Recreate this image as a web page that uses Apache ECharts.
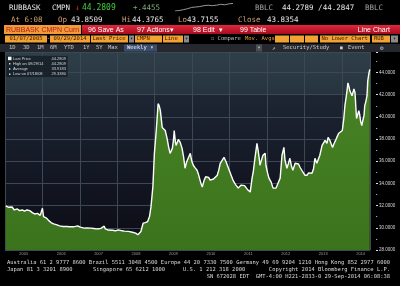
<!DOCTYPE html>
<html><head><meta charset="utf-8">
<script src="https://cdn.jsdelivr.net/npm/echarts@6/dist/echarts.min.js"></script>
<style>html,body{margin:0;padding:0;background:#000}#c{width:400px;height:286px}</style>
</head><body><div id="c"></div><script>
// ---- data (fractional years, RUBBASK weekly close) ----
const dates = [2005.02,2005.06,2005.10,2005.15,2005.19,2005.22,2005.25,2005.29,2005.33,2005.39,2005.43,2005.46,2005.52,2005.56,2005.59,2005.63,2005.66,2005.73,2005.79,2005.84,2005.87,2005.90,2005.94,2005.97,
2006.00,2006.03,2006.07,2006.11,2006.17,2006.23,2006.27,2006.30,2006.35,2006.39,2006.46,2006.50,2006.55,2006.60,2006.66,2006.72,2006.77,2006.83,2006.88,2006.94,
2007.01,2007.06,2007.12,2007.18,2007.23,2007.30,2007.37,2007.44,2007.50,2007.56,2007.59,2007.65,2007.68,2007.71,2007.76,2007.81,2007.88,2007.95,
2008.03,2008.08,2008.13,2008.19,2008.24,2008.30,2008.35,2008.43,2008.49,2008.53,2008.55,2008.60,2008.63,2008.66,2008.69,2008.75,2008.81,2008.86,2008.90,2008.95,2008.99,
2009.04,2009.07,2009.09,2009.12,2009.15,2009.20,2009.24,2009.28,2009.33,2009.37,2009.41,2009.47,2009.50,2009.52,2009.55,2009.57,2009.60,2009.63,2009.68,2009.73,2009.77,2009.81,2009.84,2009.87,2009.91,2009.95,2009.99,
2010.03,2010.08,2010.13,2010.17,2010.21,2010.24,2010.27,2010.32,2010.36,2010.40,2010.44,2010.48,2010.53,2010.57,2010.61,2010.67,2010.71,2010.75,2010.80,2010.85,2010.88,2010.91,2010.96,
2011.00,2011.04,2011.09,2011.13,2011.17,2011.23,2011.27,2011.31,2011.36,2011.40,2011.44,2011.49,2011.55,2011.60,2011.63,2011.68,2011.73,2011.76,2011.79,2011.81,2011.85,2011.89,2011.95,2011.97,
2012.01,2012.05,2012.11,2012.16,2012.20,2012.24,2012.29,2012.35,2012.40,2012.45,2012.48,2012.53,2012.57,2012.61,2012.65,2012.69,2012.75,2012.80,2012.84,2012.88,2012.92,2012.96,
2013.01,2013.04,2013.07,2013.11,2013.15,2013.20,2013.24,2013.28,2013.33,2013.36,2013.41,2013.47,2013.52,2013.55,2013.60,2013.63,2013.68,2013.72,2013.75,2013.79,2013.83,2013.87,2013.91,2013.96,
2014.01,2014.05,2014.08,2014.13,2014.16,2014.19,2014.21,2014.27,2014.32,2014.35,2014.37,2014.39,2014.42,2014.45,2014.47,2014.50,2014.53,2014.56,2014.59,2014.61,2014.64,2014.67,2014.69,2014.72,2014.743];
const prices = [31.97,31.90,31.85,31.79,31.88,31.72,31.61,31.74,31.70,31.55,31.66,31.61,31.50,31.62,31.61,31.48,31.55,31.37,31.25,31.16,31.30,31.25,31.12,31.07,
31.76,31.01,30.95,30.87,30.65,30.47,30.42,30.36,30.33,30.27,30.18,30.22,30.12,30.16,30.12,30.10,30.06,30.09,30.06,30.18,
30.06,30.02,29.97,29.99,29.94,29.97,29.94,29.90,29.91,29.95,29.97,30.15,29.90,29.82,29.80,29.76,29.78,29.73,
29.82,29.76,29.73,29.70,29.67,29.68,29.64,29.58,29.52,29.46,29.37,29.50,29.67,30.05,30.42,30.47,30.56,31.01,31.91,33.70,36.69,
38.77,40.20,41.19,41.00,40.56,39.04,38.90,38.77,38.06,37.30,36.71,37.16,37.90,38.77,37.80,37.43,37.70,37.97,37.70,37.16,36.40,35.37,35.80,36.09,36.40,36.71,36.00,
35.64,35.40,35.19,34.80,34.30,33.95,33.67,34.30,34.60,34.74,34.55,34.30,34.48,34.40,34.57,34.74,35.20,35.82,36.09,36.36,36.20,35.91,35.46,
35.10,34.74,34.30,34.05,33.85,33.58,33.75,33.85,33.67,33.80,33.76,33.40,33.22,34.48,35.01,36.36,37.61,37.00,36.27,35.64,36.10,36.54,36.71,35.64,
35.00,34.48,34.12,33.58,33.70,33.58,33.67,34.48,36.54,37.25,36.09,35.37,35.80,36.27,35.60,35.19,35.82,35.64,35.75,35.46,35.30,35.01,
34.74,34.85,34.74,34.95,34.92,34.92,35.30,36.27,35.82,35.64,36.54,37.43,37.60,37.88,37.61,38.15,37.88,37.50,37.25,37.60,37.88,38.20,38.50,38.33,
38.77,39.85,41.01,42.18,43.07,42.70,42.35,41.91,42.53,42.18,41.00,39.85,40.20,40.56,40.30,39.60,39.22,39.70,40.12,41.01,41.40,41.91,43.25,43.90,44.2809];
const sparkValues = [0,1,3,5,8,9,10,12,13,12,13,15,14,16,17];
const lastPrice = 44.2809;
const yMin = 28, yMax = 45.85, yStep = 2;
const xMin = 2005, xMax = 2014.75;
const legendRows = [['Last Price','44.2809'],['High on 09/29/14','44.2809'],['Average','33.9183'],['Low on 07/18/08','29.3380']];

const MONO = 'DejaVu Sans Mono', SANS = 'Liberation Sans';
function T(x,y,text,fill,size,opt){opt=opt||{};return {type:'text',x:x,y:y,z:opt.z||10,silent:true,style:{text:text,fill:fill,font:(opt.bold?'bold ':'')+size+'px "'+(opt.font||MONO)+'"',textAlign:opt.align||'left',textVerticalAlign:'middle'}};}
function R(x,y,w,h,fill,z){return {type:'rect',z:z==null?5:z,silent:true,shape:{x:x,y:y,width:w,height:h},style:{fill:fill}};}

const g = [];
// plot background
g.push({type:'rect',z:-10,silent:true,shape:{x:5,y:52,width:365,height:198},style:{fill:new echarts.graphic.LinearGradient(0,0,0,1,[{offset:0,color:'#2f3f4a'},{offset:0.21,color:'#27343e'},{offset:0.22,color:'#1d2533'},{offset:0.6,color:'#141824'},{offset:1,color:'#0b0b14'}])}});
// row 1
g.push(T(9,8,'RUBBASK','#e6e6e6',7.5));
g.push(T(52,8,'CMPN','#e6e6e6',7.5));
g.push(T(75,8,'\u2193','#e03030',8));
g.push(T(82,8,'44.2809','#3fcf3f',8));
g.push(T(133,8,'+.4455','#7fa878',7.5));
g.push(T(255,8,'BBLC','#a0a0a0',7.5));
g.push(T(282,8,'44.2789 /44.2847','#e6e6e6',7.5));
g.push(T(365,8,'BBLC','#a0a0a0',7.5));
// row 2
g.push(T(11,20,'At 6:08','#d0a070',7.5));
g.push(T(58,20,'Op','#d0a070',7.5));
g.push(T(71,20,'43.8509','#e6e6e6',7.5));
g.push(T(122,20,'Hi','#d0a070',7.5));
g.push(T(132,20,'44.3765','#e6e6e6',7.5));
g.push(T(178,20,'Lo','#d0a070',7.5));
g.push(T(187,20,'43.7155','#e6e6e6',7.5));
g.push(T(238,20,'Close','#d0a070',7.5));
g.push(T(267,20,'43.8354','#e6e6e6',7.5));
// row 3 red bar
g.push({type:'rect',z:5,silent:true,shape:{x:82,y:25,width:318,height:9},style:{fill:new echarts.graphic.LinearGradient(0,0,0,1,[{offset:0,color:'#e0283a'},{offset:1,color:'#a80c20'}])}});
g.push(R(4,25,77,9,'#f09a3c'));
g.push(T(6,29.7,'RUBBASK CMPN Curn','#b01c18',7,{font:SANS}));
g.push(T(88,29.7,'96 Save As','#ffffff',7,{font:SANS}));
g.push(T(137,29.7,'97 Actions\u25BE','#ffffff',7,{font:SANS}));
g.push(T(193,29.7,'98 Edit  \u25BE','#ffffff',7,{font:SANS}));
g.push(T(240,29.7,'99 Table','#ffffff',7,{font:SANS}));
g.push(T(390,29.7,'Line Chart','#ffffff',7,{font:SANS,align:'right'}));
// row 4 orange fields
const OR = '#f2a233', OT = '#3a1600';
g.push(R(5,35.5,42,7,OR)); g.push(T(26,39,'01/07/2005',OT,5.5,{align:'center'}));
g.push(T(48.5,39,'-','#ddd',5.5,{align:'center'}));
g.push(R(50,35.5,40,7,OR)); g.push(T(70,39,'09/29/2014',OT,5.5,{align:'center'}));
g.push(R(91,35.5,37,7,OR)); g.push(T(92.5,39,'Last Price',OT,5.5));
g.push(R(129,35.5,5,7,'#8a8a8a')); g.push(T(131.5,39,'\u25BE','#222',5,{align:'center'}));
g.push(R(135,35.5,27,7,OR)); g.push(T(136.5,39,'CMPN',OT,5.5));
g.push(R(163,35.5,20,7,OR)); g.push(T(164.5,39,'Line',OT,5.5));
g.push(R(184,35.5,5,7,'#8a8a8a')); g.push(T(186.5,39,'\u25BE','#222',5,{align:'center'}));
g.push(T(211,39,'\u2610 Compare','#bbbbbb',5.5));
g.push(T(245,39,'Mov. Avgs','#f2a233',5.5));
g.push(R(275,35.5,14,7,OR)); g.push(R(290,35.5,14,7,OR)); g.push(R(305,35.5,13,7,OR));
g.push(R(320,35.5,50,7,OR)); g.push(T(321.5,39,'No Lower Chart',OT,5.5));
g.push(R(372,35.5,18,7,OR)); g.push(T(374,39,'RUB',OT,5.5));
g.push(R(391,35.5,7,7,'#8a8a8a')); g.push(T(394.5,39,'\u25BE','#222',5,{align:'center'}));
// row 5 tabs
g.push(R(0,44,400,8,'#25292f',4));
[['1D',9],['3D',23],['1M',37],['6M',50],['YTD',64],['1Y',83],['5Y',96],['Max',108]].forEach(function(a){g.push(T(a[1],48,a[0],'#c8c8c8',5.5));});
g.push(R(124,44.5,33,7,'#3c4d6c')); g.push(T(127,48,'Weekly \u25BE','#e8f0ff',5.5));
g.push(R(256,44.5,6,7,'#4a4f56')); g.push(T(259,48,'\u25BE','#ccc',5,{align:'center'}));
g.push(T(272,48,'\u2197','#cccccc',6)); g.push(T(283,48,'Security/Study','#cccccc',5.5));
g.push(T(340,48,'\u25A0','#cccccc',4.5)); g.push(T(348,48,'Event','#cccccc',5.5));
g.push(T(380,48,'\u2699','#cccccc',6));
// legend box
g.push({type:'rect',z:8,silent:true,shape:{x:6,y:55.5,width:62,height:22},style:{fill:'rgba(22,32,40,0.9)',stroke:'#34434e',lineWidth:0.5}});
legendRows.forEach(function(r,i){
  const yy = 58.5+i*5.2;
  if(i===0){g.push(R(8,yy-1.8,3.5,3.5,'#ffffff',11));}
  else {g.push(R(9,yy-0.6,1.4,1.4,'#dddddd',11));}
  g.push(T(13,yy,r[0],'#d8d8d8',4,{z:11,font:SANS}));
  g.push(T(66,yy,r[1],'#d8d8d8',4,{z:11,font:SANS,align:'right'}));
});
// footer
const FT = '#dcdcdc', FS = 5.45;
g.push(T(7,263,'Australia 61 2 9777 8600 Brazil 5511 3048 4500 Europe 44 20 7330 7500 Germany 49 69 9204 1210 Hong Kong 852 2977 6000',FT,FS));
g.push(T(7,270,'Japan 81 3 3201 8900',FT,FS));
g.push(T(93,270,'Singapore 65 6212 1000',FT,FS));
g.push(T(183,270,'U.S. 1 212 318 2000',FT,FS));
g.push(T(390,270,'Copyright 2014 Bloomberg Finance L.P.',FT,FS,{align:'right'}));
g.push(T(390,277,'SN 672028 EDT  GMT-4:00 H221-2833-0 29-Sep-2014 06:08:38',FT,FS,{align:'right'}));

const chart = echarts.init(document.getElementById('c'), null, {renderer:'canvas'});
chart.setOption({
  backgroundColor:'#000',
  animation:false,
  graphic:g,
  grid:[
    {left:5,right:30,top:52,bottom:36,outerBoundsMode:'none',containLabel:false},
    {left:175,top:3,width:58,height:8,outerBoundsMode:'none',containLabel:false}
  ],
  xAxis:[
    {type:'value',gridIndex:0,min:xMin,max:xMax,interval:1,axisLine:{show:false},axisTick:{show:false},axisLabel:{show:false},
     splitLine:{show:true,lineStyle:{color:'#3c4955',width:1}}},
    {type:'value',gridIndex:0,min:xMin,max:xMax,interval:0.5,position:'bottom',axisLine:{show:false},axisTick:{show:false},splitLine:{show:false},
     axisLabel:{margin:2,fontSize:4,color:'#9a9a9a',fontFamily:SANS,showMinLabel:true,showMaxLabel:true,
       formatter:function(v){return (Math.abs(v%1-0.5)<1e-6)?String(Math.floor(v)):'';}}},
    {type:'category',gridIndex:1,show:false,boundaryGap:false,data:sparkValues.map(function(_,i){return i;})}
  ],
  yAxis:[
    {type:'value',gridIndex:0,min:yMin,max:yMax,interval:yStep,position:'right',offset:6,
     axisLine:{show:false},
     axisTick:{show:true,length:2,lineStyle:{color:'#e0e0e0'}},
     minorTick:{show:true,splitNumber:2,length:1.2,lineStyle:{color:'#aaaaaa'}},
     axisLabel:{margin:3,fontSize:4.5,color:'#d8d8d8',fontFamily:SANS,
       formatter:function(v){return (Math.abs(v%2)<1e-6)?v.toFixed(4):'';}},
     splitLine:{show:true,lineStyle:{color:'#3c4955',width:1}}},
    {type:'value',gridIndex:1,show:false,scale:true}
  ],
  series:[
    {type:'line',xAxisIndex:0,yAxisIndex:0,data:dates.map(function(d,i){return [d,prices[i]];}),
     showSymbol:false,symbol:'none',z:3,
     lineStyle:{color:'#ffffff',width:1.4},
     areaStyle:{origin:'start',opacity:1,color:new echarts.graphic.LinearGradient(0,0,0,1,[{offset:0,color:'#4a8426'},{offset:1,color:'#3a731c'}])},
     markLine:{silent:true,symbol:'none',animation:false,lineStyle:{opacity:0},
       data:[{yAxis:lastPrice}],
       label:{show:true,position:'end',distance:8,formatter:lastPrice.toFixed(4),backgroundColor:'#f2f2f2',color:'#000',fontSize:5,fontFamily:SANS,padding:[1,1,0,1]}}},
    {type:'line',xAxisIndex:2,yAxisIndex:1,data:sparkValues,showSymbol:false,symbol:'none',
     lineStyle:{color:'#bcbcbc',width:0.8}}
  ]
});
</script></body></html>
